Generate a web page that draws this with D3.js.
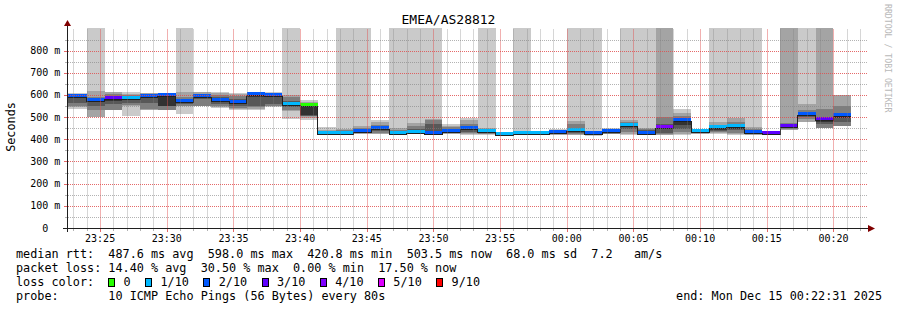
<!DOCTYPE html>
<html>
<head>
<meta charset="utf-8">
<script src="https://cdn.jsdelivr.net/npm/d3@7"></script>
<style>
body { margin: 0; background: #fff; }
text { font-family: "DejaVu Sans Mono", monospace; fill: #000; }
</style>
</head>
<body>
<div id="chart"></div>
<script>
// ---- data ----
var title = "EMEA/AS28812";
var yLabel = "Seconds";
var tStart = new Date(2025, 11, 14, 23, 22, 31);
var tEnd = new Date(2025, 11, 15, 0, 22, 31);
var firstStep = new Date(2025, 11, 14, 23, 21, 20);
var stepSec = 80;
var yMax = 902;
var yTicks = [0, 100, 200, 300, 400, 500, 600, 700, 800];

// median rtt per step (ms)
var median = [590, 590, 573, 580, 583, 593, 595, 568, 593, 574, 566, 598, 595, 556, 548,
  422, 422, 435, 448, 424, 430, 423, 434, 446, 433, 420.8, 422, 422, 427, 438,
  422, 433, 461, 426, 452, 484, 432, 450, 455, 428, 422, 455, 510, 486, 503.5];

// lost pings per step (out of 10, averaged)
var loss = [2, 2, 1.25, 2.5, 0.75, 1.75, 2, 1.25, 1.75, 2, 2, 1.75, 2, 0.75, 0,
  0.5, 0.75, 1.5, 1.25, 1, 0.75, 1.5, 1.75, 1.5, 1, 0.75, 0.5, 0.75, 1.5, 1,
  1.75, 1.25, 0.75, 1.5, 3.05, 1.5, 0.75, 1, 0.75, 1.5, 2.5, 2.75, 2, 2.25, 1.75];

// sorted ping times per step (ms), null = lost, 2000 = off the chart
var pings = [
  [538, 545, 552, 562, 585, 590, 596, 600, 604, 608],
  [538, 545, 552, 562, 585, 590, 596, 600, 604, 608],
  [499, 501, 531, 549, 567, 573, 585, 591, 618, 2000],
  [null, 531, 534, 559, 572, 580, 592, 605, 613, null],
  [505, 550, 556, 562, 578, 583, 592, 598, 604, 612],
  [null, 533, 535, 562, 586, 593, 598, 602, 611, null],
  [null, 531, 533, 548, 550, 595, 600, 603, 609, null],
  [512, 548, 552, 558, 564, 568, 576, 590, 612, 2000],
  [null, 549, 552, 580, 588, 593, 600, 606, 613, null],
  [540, 545, 550, 560, 568, 574, 590, 600, 608, 612],
  [531, 535, 540, 552, 560, 566, 580, 594, 604, 610],
  [534, 538, 545, 549, 590, 598, 602, 606, 609, 612],
  [545, 549, 552, 558, 590, 595, 600, 604, 609, 612],
  [490, 528, 531, 545, 550, 556, 575, 590, 600, 2000],
  [486, 496, 503, 506, 508, 548, 553, 560, 568, 576],
  [418, 419, 420, 421, 421, 422, 428, 435, 440, 456],
  [419, 420, 421, 421, 422, 422, 430, 440, 448, 2000],
  [423, 426, 428, 430, 432, 435, 440, 450, 458, 2000],
  [422, 425, 430, 436, 440, 448, 456, 466, 476, 488],
  [420, 421, 422, 423, 423, 424, 432, 440, 452, 2000],
  [422, 424, 426, 428, 429, 430, 445, 458, 475, 2000],
  [419, 420, 421, 421, 422, 423, 470, 488, 491, 2000],
  [424, 426, 428, 430, 432, 434, 445, 455, 462, 471],
  [421, 424, 428, 435, 440, 446, 458, 470, 485, 495],
  [418, 422, 426, 430, 432, 433, 440, 446, 452, 2000],
  [418, 419, 420, 420, 420, 421, 421, 422, 423, 424],
  [418, 419, 420, 421, 421, 422, 423, 424, 426, 2000],
  [418, 419, 420, 421, 421, 422, 423, 424, 425, 426],
  [419, 421, 422, 424, 425, 427, 432, 438, 442, 448],
  [418, 421, 424, 428, 432, 438, 452, 470, 484, 2000],
  [417, 419, 420, 421, 421, 422, 426, 430, 434, 2000],
  [422, 424, 426, 428, 430, 433, 438, 442, 446, 450],
  [420, 424, 432, 445, 455, 461, 470, 478, 486, 2000],
  [418, 420, 422, 424, 425, 426, 440, 448, 452, 2000],
  [null, 418, 424, 430, 446, 452, 470, 500, 2000, null],
  [421, 425, 432, 445, 465, 484, 495, 505, 520, 535],
  [424, 426, 428, 429, 430, 432, 436, 440, 443, 446],
  [426, 428, 432, 438, 444, 450, 458, 465, 476, 2000],
  [418, 424, 430, 440, 448, 455, 465, 480, 496, 2000],
  [418, 420, 422, 424, 426, 428, 435, 445, 456, 2000],
  [null, 419, 420, 421, 421, 422, 423, 424, 425, null],
  [null, 440, 446, 450, 452, 455, 462, 474, 2000, null],
  [476, 478, 490, 500, 505, 510, 518, 532, 558, 2000],
  [null, 450, 452, 468, 478, 486, 500, 538, 2000, null],
  [null, 460, 462, 480, 495, 503.5, 515, 548, 602, null]
];

var smokeColors = ["#cacaca", "#a4a4a4", "#7e7e7e", "#585858", "#323232"];
var lossLabels = ["0", "1/10", "2/10", "3/10", "4/10", "5/10", "9/10"];
var lossLimits = [0, 1, 2, 3, 4, 5, 9];
var lossColors = ["#26ff00", "#00b8ff", "#0059ff", "#5e00ff", "#7e00ff", "#dd00ff", "#ff0000"];

var statLines = [
  "median rtt:  487.6 ms avg  598.0 ms max  420.8 ms min  503.5 ms now  68.0 ms sd  7.2   am/s",
  "packet loss: 14.40 % avg  30.50 % max  0.00 % min  17.50 % now"
];
var probeText = "probe:       10 ICMP Echo Pings (56 Bytes) every 80s";
var endText = "end: Mon Dec 15 00:22:31 2025";
var watermark = "RRDTOOL / TOBI OETIKER";

// ---- layout ----
var W = 897, H = 310;
var X0 = 67, X1 = 867, Y0 = 228, Y1 = 28;
var cw = 7.1; // legend char advance
var minorCol = "rgba(128,128,128,0.6)", majorCol = "rgba(224,79,79,0.85)";
var minorColV = "rgba(128,128,128,0.32)", majorColV = "rgba(224,79,79,0.45)";

function nb(s) { return s.replace(/ /g, "\u00a0"); }

var svg = d3.select("#chart").append("svg")
    .attr("width", W)
    .attr("height", H)
    .style("background", "#fff");

var x = d3.scaleTime().domain([tStart, tEnd]).range([X0, X1]);
var y = d3.scaleLinear().domain([0, yMax]).range([Y0, Y1]).clamp(true);

function lossColor(l) {
  for (var i = 0; i < lossLimits.length; i++) if (l <= lossLimits[i]) return lossColors[i];
  return lossColors[lossColors.length - 1];
}

var steps = median.map(function(m, i) {
  var t0 = d3.timeSecond.offset(firstStep, i * stepSec);
  return {t0: t0, t1: d3.timeSecond.offset(t0, stepSec), med: m, loss: loss[i], p: pings[i]};
});

svg.append("defs").append("clipPath").attr("id", "plot")
  .append("rect").attr("x", X0).attr("y", Y1).attr("width", X1 - X0).attr("height", Y0 - Y1);

// smoke
var plot = svg.append("g").attr("clip-path", "url(#plot)").attr("shape-rendering", "crispEdges");
smokeColors.forEach(function(col, k) {
  plot.append("g").selectAll("rect")
    .data(steps.filter(function(d) { return d.p[k] != null && d.p[9 - k] != null; }))
    .join("rect")
      .attr("x", function(d) { return x(d.t0); })
      .attr("width", function(d) { return x(d.t1) - x(d.t0); })
      .attr("y", function(d) { return y(d.p[9 - k]); })
      .attr("height", function(d) { return y(d.p[k]) - y(d.p[9 - k]); })
      .attr("fill", col);
});

// median step line + loss coloured median
var medLine = d3.line()
    .x(function(d) { return x(d.t); })
    .y(function(d) { return Math.round(y(d.m)) + 0.5; })
    .curve(d3.curveStepAfter);
var medPts = steps.map(function(d) { return {t: d.t0, m: d.med}; });
medPts.push({t: steps[steps.length - 1].t1, m: steps[steps.length - 1].med});

plot.selectAll("rect.med")
  .data(steps)
  .join("rect")
    .attr("class", "med")
    .attr("x", function(d) { return x(d.t0); })
    .attr("width", function(d) { return x(d.t1) - x(d.t0); })
    .attr("y", function(d) { return Math.round(y(d.med)) - 3; })
    .attr("height", 3)
    .attr("fill", function(d) { return lossColor(d.loss); });

plot.append("path")
    .datum(medPts)
    .attr("d", medLine)
    .attr("fill", "none")
    .attr("stroke", "#202020")
    .attr("stroke-width", 1);

// grid (drawn over the graph, like rrdtool)
var minutes = d3.timeMinute.range(tStart, tEnd);
var hLines = d3.range(50, 900, 50);
var gridPath = {minor: "", major: ""};
var vgrid = svg.append("g").attr("shape-rendering", "crispEdges");
minutes.forEach(function(t) {
  var major = t.getMinutes() % 5 === 0;
  var xx = Math.round(x(t)) + 0.5;
  vgrid.append("line").attr("x1", xx).attr("x2", xx).attr("y1", Y1 + 1).attr("y2", Y0)
    .attr("stroke", major ? majorColV : minorColV);
  vgrid.append("line").attr("x1", xx).attr("x2", xx).attr("y1", Y0 + 1).attr("y2", Y0 + (major ? 4 : 3))
    .attr("stroke", major ? majorCol : minorCol);
});
hLines.forEach(function(v) {
  var key = v % 100 === 0 ? "major" : "minor";
  var yy = Math.round(y(v));
  for (var xx = X0 + 1; xx < X1; xx += 2) gridPath[key] += "M" + xx + "," + yy + "h1v1h-1z";
  gridPath[key] += "M" + (X0 - (key === "major" ? 3 : 2)) + "," + yy + "h" + (key === "major" ? 3 : 2) + "v1h" + (key === "major" ? -3 : -2) + "z";
});
svg.append("path").attr("d", gridPath.minor).attr("fill", minorCol).attr("shape-rendering", "crispEdges");
svg.append("path").attr("d", gridPath.major).attr("fill", majorCol).attr("shape-rendering", "crispEdges");

// axes
var ax = svg.append("g").attr("shape-rendering", "crispEdges");
ax.append("line").attr("x1", X0 - 4).attr("x2", X1 + 3).attr("y1", Y0 + 0.5).attr("y2", Y0 + 0.5).attr("stroke", "#1f1f1f");
ax.append("line").attr("x1", X0 + 0.5).attr("x2", X0 + 0.5).attr("y1", Y0 + 4).attr("y2", Y1 - 3).attr("stroke", "#1f1f1f");
svg.append("path").attr("d", "M" + (X1 + 1) + "," + (Y0 - 3) + "L" + (X1 + 1) + "," + (Y0 + 4) + "L" + (X1 + 8) + "," + (Y0 + 0.5) + "Z").attr("fill", "#800000");
svg.append("path").attr("d", "M" + (X0 - 3) + "," + (Y1 - 2) + "L" + (X0 + 4) + "," + (Y1 - 2) + "L" + (X0 + 0.5) + "," + (Y1 - 8) + "Z").attr("fill", "#800000");

// tick labels
svg.append("g").selectAll("text")
  .data(yTicks)
  .join("text")
    .attr("x", function(v) { return v === 0 ? 48.3 : 60.3; })
    .attr("y", function(v) { return y(v) + 3.5; })
    .attr("text-anchor", "end")
    .style("font-size", "10px")
    .text(function(v) { return v === 0 ? "0" : nb(v + " m"); });

svg.append("g").selectAll("text")
  .data(minutes.filter(function(t) { return t.getMinutes() % 5 === 0; }))
  .join("text")
    .attr("x", function(t) { return x(t); })
    .attr("y", 242)
    .attr("text-anchor", "middle")
    .style("font-size", "10px")
    .text(d3.timeFormat("%H:%M"));

// titles
svg.append("text").attr("x", 448.5).attr("y", 24).attr("text-anchor", "middle")
  .style("font-size", "13px").text(title);
svg.append("text").attr("transform", "translate(15,127) rotate(-90)").attr("text-anchor", "middle")
  .style("font-size", "11.8px").text(yLabel);
svg.append("text").attr("transform", "translate(885,4) rotate(90)")
  .style("font-size", "8.2px").style("fill", "#b8b8b8").text(nb(watermark));

// legend
var leg = svg.append("g").style("font-size", "11.8px");
statLines.forEach(function(s, i) {
  leg.append("text").attr("x", 16).attr("y", 258 + i * 14).text(nb(s));
});
leg.append("text").attr("x", 16).attr("y", 286).text(nb("loss color:"));
var col = 13;
lossLabels.forEach(function(lab, i) {
  leg.append("rect").attr("x", 16 + col * cw + 0.5).attr("y", 278.5).attr("width", 6).attr("height", 8)
    .attr("fill", lossColors[i]).attr("stroke", "#000").attr("shape-rendering", "crispEdges");
  leg.append("text").attr("x", 16 + (col + 2.15) * cw).attr("y", 286).text(lab);
  col = col + 2.15 + lab.length + 2.05;
});
leg.append("text").attr("x", 16).attr("y", 300).text(nb(probeText));
leg.append("text").attr("x", 882).attr("y", 300).attr("text-anchor", "end").text(nb(endText));
</script>
</body>
</html>
